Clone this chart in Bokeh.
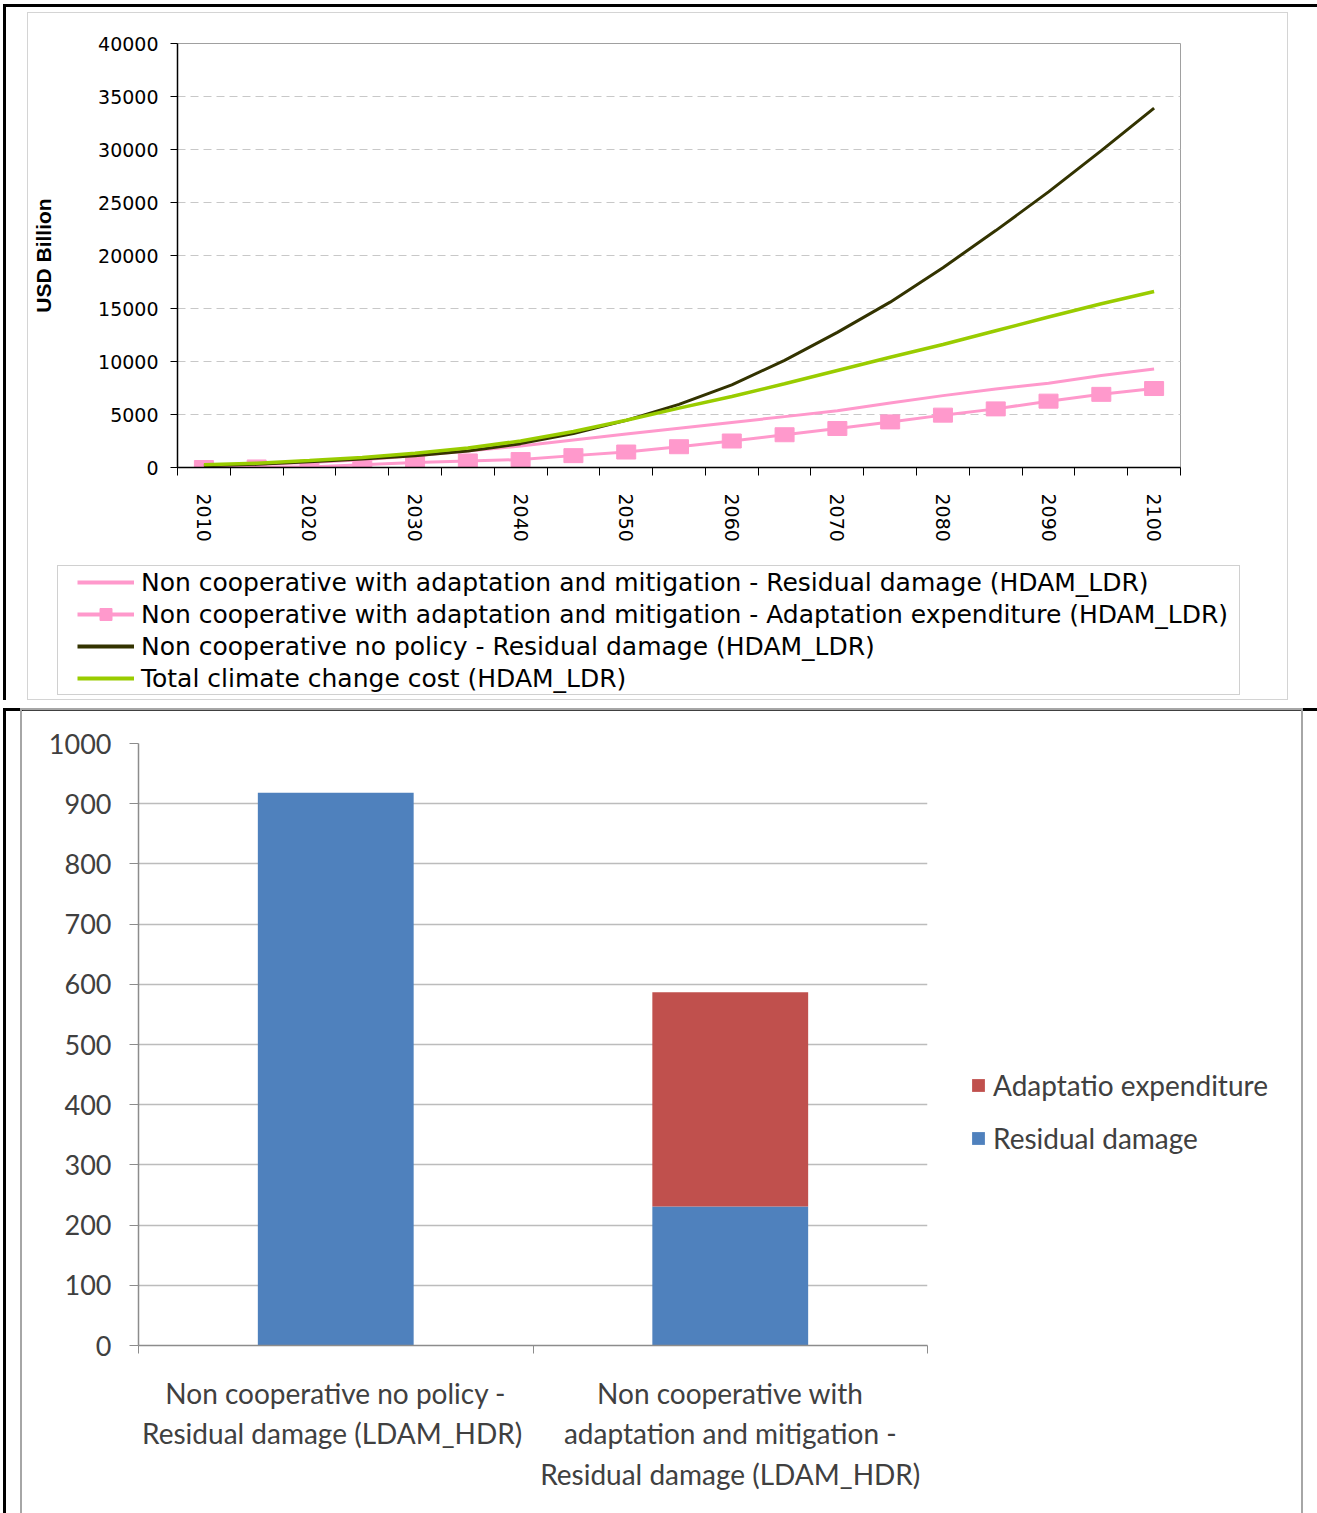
import numpy as np
from bokeh.plotting import figure
from bokeh.models import (ColumnDataSource, FixedTicker, Legend, LegendItem, Range1d)
from bokeh.layouts import column
from bokeh.embed import file_html
from bokeh.resources import INLINE

# ---- line chart data (USD Billion, HDAM_LDR) ----
years = [2010, 2015, 2020, 2025, 2030, 2035, 2040, 2045, 2050, 2055,
         2060, 2065, 2070, 2075, 2080, 2085, 2090, 2095, 2100]
resid_adapt_mitig = [150, 310, 470, 720, 1100, 1560, 2030, 2600, 3150, 3700,
                     4250, 4800, 5350, 6080, 6780, 7400, 7950, 8680, 9300]
adapt_expenditure = [0, 50, 50, 250, 470, 620, 750, 1120, 1460, 1960,
                     2500, 3090, 3680, 4300, 4940, 5530, 6260, 6900, 7450]
resid_no_policy = [160, 300, 550, 800, 1100, 1550, 2250, 3200, 4450, 5950,
                   7800, 10100, 12750, 15600, 18850, 22350, 26000, 29900, 33900]
total_cost = [250, 400, 650, 950, 1350, 1850, 2500, 3400, 4450, 5600,
              6700, 7900, 9150, 10400, 11600, 12900, 14200, 15450, 16600]

line_labels = [
    "Non cooperative with adaptation and mitigation - Residual damage (HDAM_LDR)",
    "Non cooperative with adaptation and mitigation - Adaptation expenditure (HDAM_LDR)",
    "Non cooperative no policy - Residual damage (HDAM_LDR)",
    "Total climate change cost (HDAM_LDR)",
]
y_ticks_top = [0, 5000, 10000, 15000, 20000, 25000, 30000, 35000, 40000]

# ---- bar chart data (LDAM_HDR) ----
bar_categories = [
    "Non cooperative no policy -\nResidual damage  (LDAM_HDR)",
    "Non cooperative with\nadaptation and mitigation -\nResidual damage (LDAM_HDR)",
]
bar_residual = [918, 231]
bar_adaptation = [0, 356]
bar_labels = ["Residual damage", "Adaptatio expenditure"]
y_ticks_bottom = [0, 100, 200, 300, 400, 500, 600, 700, 800, 900, 1000]

PINK, DARK, GREEN = "#ff99cc", "#333300", "#99cc00"
BLUE, RED = "#4f81bd", "#c0504d"
TXT = "#404040"
AX = "#8c8c8c"


def key_figure(width, height, left, top, border):
    """A small canvas that only carries a legend; its ranges sit away from the data,
    so the sample glyphs it holds stay out of view and only their keys are drawn."""
    styles = {"position": "absolute", "left": f"{left}px", "top": f"{top}px"}
    if border:
        styles["border"] = border
    k = figure(width=width, height=height, x_range=Range1d(-3, -2), y_range=Range1d(-3, -2),
               output_backend="svg", toolbar_location=None,
               x_axis_location=None, y_axis_location=None,
               min_border=0, min_border_left=0, min_border_right=0,
               min_border_top=0, min_border_bottom=0, styles=styles)
    k.grid.visible = False
    k.outline_line_color = None
    k.background_fill_alpha = 0
    k.border_fill_alpha = 0
    return k


# ================= top: line chart =================
p1 = figure(width=1261, height=688, x_range=Range1d(2007.5, 2102.5),
            y_range=Range1d(0, 40000), output_backend="svg",
            toolbar_location=None, min_border_left=149, min_border_right=109,
            min_border_top=30, min_border_bottom=234,
            styles={"border": "1px solid #d4d4d4"})
p1.background_fill_color = "white"
p1.border_fill_color = "white"
p1.outline_line_color = "#a0a0a0"

p1.line(years, resid_adapt_mitig, line_color=PINK, line_width=3)
p1.line(years, adapt_expenditure, line_color=PINK, line_width=3)
p1.rect(years, adapt_expenditure, width=19, height=14,
        width_units="screen", height_units="screen",
        fill_color=PINK, line_color=PINK)
p1.line(years, resid_no_policy, line_color=DARK, line_width=3)
p1.line(years, total_cost, line_color=GREEN, line_width=3.5)

half = (years[1] - years[0]) / 2
bounds = [y - half for y in years] + [years[-1] + half]
xax = p1.xaxis[0]
xax.ticker = FixedTicker(ticks=years[::2], minor_ticks=bounds)
xax.major_tick_out = 0
xax.major_tick_in = 0
xax.minor_tick_out = 8
xax.minor_tick_in = 0
xax.minor_tick_line_color = "black"
xax.axis_line_color = "black"
xax.axis_line_width = 1.5
xax.major_label_orientation = -np.pi / 2
xax.major_label_standoff = 18
xax.major_label_text_font = "DejaVu Sans"
xax.major_label_text_font_size = "19px"
xax.major_label_text_color = "black"

yax = p1.yaxis[0]
yax.ticker = FixedTicker(ticks=y_ticks_top)
yax.minor_tick_line_color = None
yax.major_tick_out = 7
yax.major_tick_in = 0
yax.axis_line_color = "black"
yax.axis_line_width = 1.5
yax.major_label_standoff = 12
yax.major_label_text_font = "DejaVu Sans"
yax.major_label_text_font_size = "19px"
yax.major_label_text_color = "black"
yax.axis_label = "USD Billion"
yax.axis_label_text_font = "Liberation Sans"
yax.axis_label_text_font_style = "bold"
yax.axis_label_text_font_size = "21px"
yax.axis_label_text_color = "black"
yax.axis_label_standoff = 40

p1.xgrid.visible = False
p1.ygrid.grid_line_color = "#c8c8c8"
p1.ygrid.grid_line_dash = "8 5"

top_block = column(p1, styles={
    "margin": "4px 0 0 3px",
    "border-top": "3px solid black",
    "border-left": "3px solid black",
    "padding": "5px 0 0 21px",
    "width": "1314px",
})

# legend of the line chart
k1 = key_figure(1183, 130, 57, 565, "1px solid #d0d0d0")
e_resid = k1.line(x=years[:2], y=resid_adapt_mitig[:2], line_color=PINK, line_width=4)
e_adapt_l = k1.line(x=years[:2], y=adapt_expenditure[:2], line_color=PINK, line_width=4)
e_adapt_m = k1.scatter(x=years[:1], y=adapt_expenditure[:1], marker="square", size=12,
                       fill_color=PINK, line_color=PINK)
e_nopol = k1.line(x=years[:2], y=resid_no_policy[:2], line_color=DARK, line_width=4)
e_total = k1.line(x=years[:2], y=total_cost[:2], line_color=GREEN, line_width=4)
leg1 = Legend(items=[
    LegendItem(label=line_labels[0], renderers=[e_resid]),
    LegendItem(label=line_labels[1], renderers=[e_adapt_l, e_adapt_m]),
    LegendItem(label=line_labels[2], renderers=[e_nopol]),
    LegendItem(label=line_labels[3], renderers=[e_total]),
], location=(19, 3))
leg1.padding = 0
leg1.margin = 0
leg1.spacing = 2
leg1.glyph_width = 57
leg1.glyph_height = 30
leg1.label_height = 30
leg1.label_standoff = 7
leg1.label_text_font = "DejaVu Sans"
leg1.label_text_font_size = "25px"
leg1.label_text_color = "black"
leg1.border_line_color = None
leg1.background_fill_alpha = 0
k1.add_layout(leg1)

# ================= bottom: stacked bars =================
p2 = figure(width=1283, height=809, x_range=Range1d(0, len(bar_categories)),
            y_range=Range1d(0, 1000), output_backend="svg",
            toolbar_location=None, min_border_left=116, min_border_right=378,
            min_border_top=33, min_border_bottom=174,
            styles={"border": "2px solid #a6a6a6", "margin-top": "-3px"})
p2.background_fill_color = "white"
p2.border_fill_color = "white"
p2.outline_line_color = None

xs = [i + 0.5 for i in range(len(bar_categories))]
src = ColumnDataSource(dict(x=xs, resid=bar_residual, adapt=bar_adaptation))
p2.vbar_stack(["resid", "adapt"], x="x", width=0.395,
              color=[BLUE, RED], line_color=None, source=src)

bx = p2.xaxis[0]
bx.ticker = FixedTicker(ticks=xs, minor_ticks=list(range(len(bar_categories) + 1)))
bx.major_label_overrides = {x: c for x, c in zip(xs, bar_categories)}
bx.major_tick_out = 0
bx.major_tick_in = 0
bx.minor_tick_out = 8
bx.minor_tick_in = 0
bx.minor_tick_line_color = AX
bx.axis_line_color = AX
bx.axis_line_width = 1.5
bx.major_label_standoff = 22
bx.major_label_text_font = "Lato"
bx.major_label_text_font_size = "28px"
bx.major_label_text_color = TXT
bx.major_label_text_align = "center"

by = p2.yaxis[0]
by.ticker = FixedTicker(ticks=y_ticks_bottom)
by.minor_tick_line_color = None
by.major_tick_out = 9
by.major_tick_in = 0
by.major_tick_line_color = AX
by.axis_line_color = AX
by.axis_line_width = 1.5
by.major_label_standoff = 18
by.major_label_text_font = "Lato"
by.major_label_text_font_size = "27px"
by.major_label_text_color = TXT

p2.xgrid.visible = False
p2.ygrid.grid_line_color = "#bcbcbc"
p2.ygrid.grid_line_width = 1.5

bottom_block = column(p2, styles={
    "margin": "8px 0 0 3px",
    "border-top": "3px solid black",
    "border-left": "3px solid black",
    "padding": "0 0 0 14px",
    "width": "1314px",
})

# legend of the bar chart (upper stack segment listed first)
k2 = key_figure(330, 110, 965, 1060, None)
e_bar_adapt = k2.vbar(x=xs[1:], top=bar_adaptation[1:], width=0.4, color=RED, line_color=None)
e_bar_resid = k2.vbar(x=xs[:1], top=bar_residual[:1], width=0.4, color=BLUE, line_color=None)
leg2 = Legend(items=[
    LegendItem(label=bar_labels[1], renderers=[e_bar_adapt]),
    LegendItem(label=bar_labels[0], renderers=[e_bar_resid]),
], location=(5, 15))
leg2.padding = 0
leg2.margin = 0
leg2.spacing = 19
leg2.glyph_width = 16
leg2.glyph_height = 16
leg2.label_standoff = 7
leg2.label_text_font = "Lato"
leg2.label_text_font_size = "28px"
leg2.label_text_color = TXT
leg2.border_line_color = None
leg2.background_fill_alpha = 0
k2.add_layout(leg2)

open("out.html", "w").write(file_html([top_block, bottom_block, k1, k2], INLINE))
